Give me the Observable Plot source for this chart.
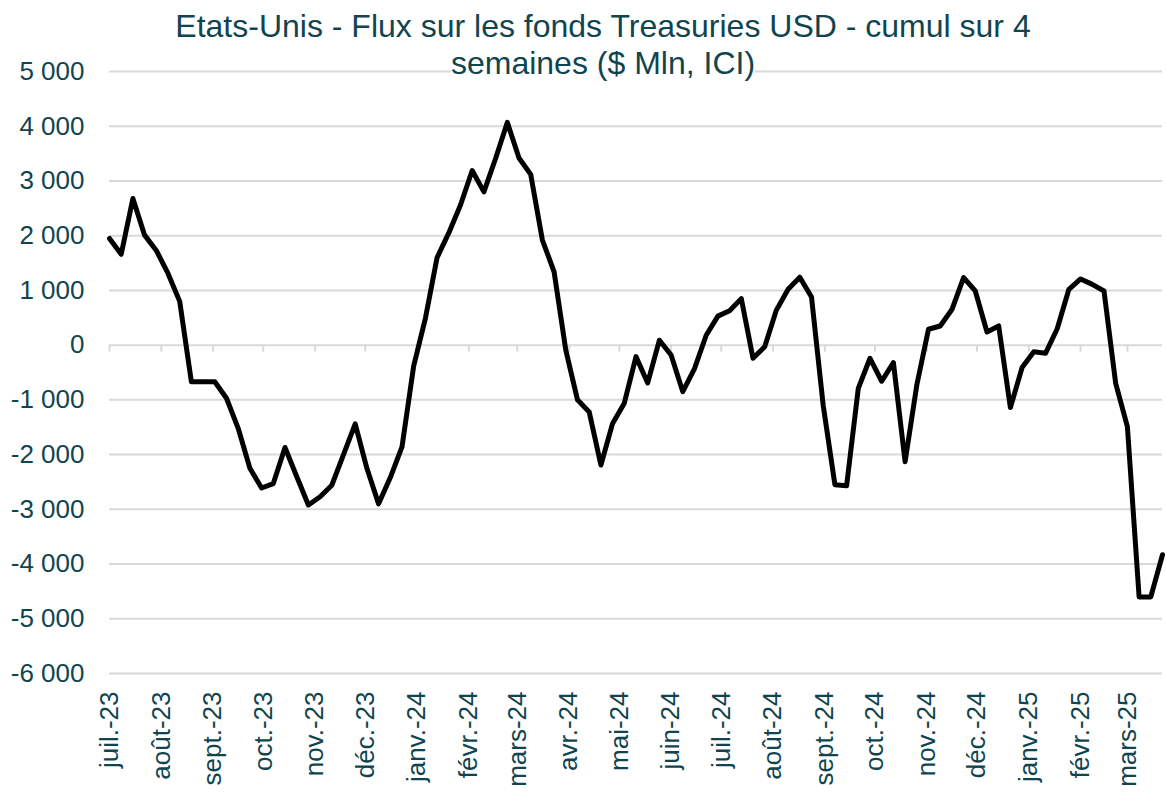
<!DOCTYPE html>
<html><head><meta charset="utf-8">
<script src="https://cdn.jsdelivr.net/npm/d3@7"></script>
<script src="https://cdn.jsdelivr.net/npm/@observablehq/plot@0.6"></script>
<style>
body{margin:0;background:#fff;}
#wrap{position:relative;width:1166px;height:792px;font-family:"Liberation Sans",Arial,sans-serif;overflow:hidden}
#title{position:absolute;top:8px;left:0;width:1206px;text-align:center;font-size:32px;line-height:37px;color:#10454f;z-index:2;pointer-events:none}
#title span{background:#fff;}
</style></head><body>
<div id="wrap"><div id="title"><span>Etats-Unis - Flux sur les fonds Treasuries USD - cumul sur 4</span><br><span>semaines ($ Mln, ICI)</span></div><div id="chart"></div></div>
<script>
const startDate = "2023-07-05";
const flows = [
  1950, 1660, 2680, 2010, 1730, 1310, 800, -670, -670, -670,
  -970, -1520, -2250, -2610, -2530, -1870, -2400, -2920, -2770, -2560,
  -2000, -1440, -2250, -2900, -2420, -1860, -380, 490, 1600, 2050,
  2560, 3190, 2800, 3410, 4070, 3420, 3120, 1920, 1340, -90,
  -1000, -1220, -2190, -1430, -1060, -210, -690, 90, -180, -850,
  -430, 180, 530, 630, 850, -240, -30, 640, 1020, 1240,
  880, -1100, -2550, -2570, -790, -240, -660, -320, -2130, -730,
  290, 350, 650, 1235, 990, 240, 350, -1140, -410, -120,
  -150, 300, 1020, 1210, 1110, 990, -700, -1490, -4600, -4600,
  -3830
];
const monthLabels = ["juil.-23","août-23","sept.-23","oct.-23","nov.-23","déc.-23","janv.-24","févr.-24","mars-24","avr.-24","mai-24","juin-24","juil.-24","août-24","sept.-24","oct.-24","nov.-24","déc.-24","janv.-25","févr.-25","mars-25"];
const yTicks = [5000, 4000, 3000, 2000, 1000, 0, -1000, -2000, -3000, -4000, -5000, -6000];

const start = new Date(startDate + "T00:00:00Z");
const dates = flows.map((_, i) => d3.utcDay.offset(start, 7 * i));
const data = flows.map((v, i) => ({date: dates[i], value: v}));
const tickDates = monthLabels.map((_, i) => d3.utcMonth.offset(start, i));
const labelMap = new Map(tickDates.map((d, i) => [+d, monthLabels[i]]));
const fmt = d3.formatLocale({decimal: ",", thousands: " ", grouping: [3], minus: "-", currency: ["", ""]}).format(",d");
const textColor = "#10454f";

const chart = Plot.plot({
  width: 1166, height: 792,
  marginLeft: 109, marginRight: 4, marginTop: 71, marginBottom: 119,
  style: {fontFamily: "'Liberation Sans', Arial, sans-serif", fontSize: "26px", color: textColor, background: "#fff", overflow: "visible"},
  x: {type: "utc", domain: [dates[0], dates[dates.length - 1]], label: null},
  y: {domain: [-6000, 5000], label: null},
  marks: [
    Plot.gridY(yTicks, {stroke: "#d9d9d9", strokeOpacity: 1, strokeWidth: 2}),
    Plot.ruleX(tickDates, {x: d => d, y1: 0, y2: 0, insetBottom: -7, stroke: "#d9d9d9", strokeWidth: 2}),
    Plot.axisY(yTicks, {tickSize: 0, tickPadding: 25, tickFormat: fmt, fill: textColor, fontSize: 26, label: null}),
    Plot.axisX(tickDates, {tickSize: 0, tickRotate: -90, tickPadding: 18, tickFormat: d => labelMap.get(+d), fill: textColor, fontSize: 26, label: null}),
    Plot.line(data, {x: "date", y: "value", stroke: "#000", strokeWidth: 5, strokeLinejoin: "round"})
  ]
});
document.getElementById("chart").appendChild(chart);
</script>
</body></html>
